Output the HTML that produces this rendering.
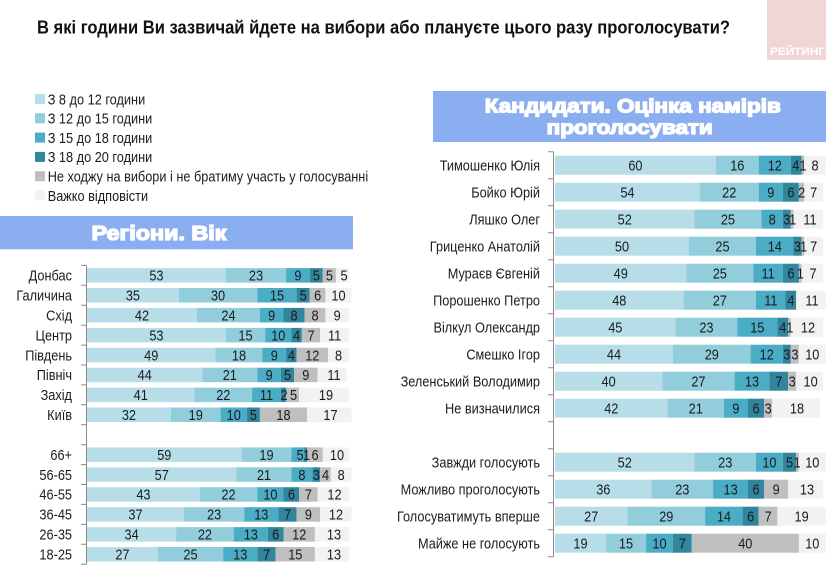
<!DOCTYPE html>
<html><head><meta charset="utf-8"><style>
html,body{margin:0;padding:0;background:#fff;}
svg{display:block;}
text{font-family:"Liberation Sans","DejaVu Sans",sans-serif;font-size:15px;fill:#1c1c1c;}
.n{text-anchor:middle;}
.l{text-anchor:end;}
.lg{font-size:15px;}
.c1{fill:#b7dee8}.c2{fill:#92cddc}.c3{fill:#4bacc6}.c4{fill:#31859c}.c5{fill:#bfbfbf}.c6{fill:#f2f2f2}
.h{font-weight:bold;fill:#fff;stroke:#fff;stroke-width:1.3px;text-anchor:middle;}
</style></head><body>
<svg width="838" height="578" viewBox="0 0 838 578" xmlns="http://www.w3.org/2000/svg">
<rect width="838" height="578" fill="#fff"/>
<!-- logo -->
<rect x="767" y="0" width="59" height="60" fill="#f1d6d6"/>
<text x="770" y="55" style="fill:#fff;font-size:11px;font-weight:bold" textLength="55" lengthAdjust="spacingAndGlyphs">РЕЙТИНГ</text>
<!-- title -->
<text x="37" y="33.5" style="font-size:18px;font-weight:bold;fill:#111" textLength="693" lengthAdjust="spacingAndGlyphs">В які години Ви зазвичай йдете на вибори або плануєте цього разу проголосувати?</text>
<!-- legend -->
<rect x="35" y="94" width="10" height="10" class="c1"/>
<rect x="35" y="113.3" width="10" height="10" class="c2"/>
<rect x="35" y="132.6" width="10" height="10" class="c3"/>
<rect x="35" y="151.9" width="10" height="10" class="c4"/>
<rect x="35" y="171.2" width="10" height="10" class="c5"/>
<rect x="35" y="190.5" width="10" height="10" class="c6"/>
<text class="lg" transform="translate(47.7 104.3) scale(.85 1)">З 8 до 12 години</text>
<text class="lg" transform="translate(47.7 123.6) scale(.85 1)">З 12 до 15 години</text>
<text class="lg" transform="translate(47.7 142.9) scale(.85 1)">З 15 до 18 години</text>
<text class="lg" transform="translate(47.7 162.2) scale(.85 1)">З 18 до 20 години</text>
<text class="lg" transform="translate(47.7 181.5) scale(.85 1)" textLength="377" lengthAdjust="spacingAndGlyphs">Не ходжу на вибори і не братиму участь у голосуванні</text>
<text class="lg" transform="translate(47.7 200.8) scale(.85 1)">Важко відповісти</text>
<!-- headers -->
<rect x="0" y="216" width="353" height="33.3" fill="#8aaef0"/>
<text class="h" x="159" y="240" style="font-size:20px" textLength="135" lengthAdjust="spacingAndGlyphs">Регіони. Вік</text>
<rect x="433" y="91" width="393" height="51" fill="#8aaef0"/>
<text class="h" x="632.8" y="112.5" style="font-size:19px" textLength="296" lengthAdjust="spacingAndGlyphs">Кандидати. Оцінка намірів</text>
<text class="h" x="629.7" y="134" style="font-size:19px" textLength="166" lengthAdjust="spacingAndGlyphs">проголосувати</text>
<!-- axes -->
<path d="M86.5 265.4V564.2M81 265.4H86.5M81 285.3H86.5M81 305.2H86.5M81 325.2H86.5M81 345.1H86.5M81 365H86.5M81 384.9H86.5M81 404.8H86.5M81 424.8H86.5M81 444.7H86.5M81 464.6H86.5M81 484.5H86.5M81 504.4H86.5M81 524.4H86.5M81 544.3H86.5M81 564.2H86.5" stroke="#8a8a8a" stroke-width="1" fill="none"/>
<path d="M553.5 151.7V556.7M548 151.7H553.5M548 178.7H553.5M548 205.7H553.5M548 232.7H553.5M548 259.7H553.5M548 286.7H553.5M548 313.7H553.5M548 340.7H553.5M548 367.7H553.5M548 394.7H553.5M548 421.7H553.5M548 448.7H553.5M548 475.7H553.5M548 502.7H553.5M548 529.7H553.5M548 556.7H553.5" stroke="#8a8a8a" stroke-width="1" fill="none"/>

<!-- LEFT BARS -->
<g>
<rect class="c1" x="87" y="268.1" width="138.9" height="14.5"/><rect class="c2" x="225.9" y="268.1" width="60.2" height="14.5"/><rect class="c3" x="286.1" y="268.1" width="23.6" height="14.5"/><rect class="c4" x="309.7" y="268.1" width="13.1" height="14.5"/><rect class="c5" x="322.8" y="268.1" width="13.1" height="14.5"/><rect class="c6" x="335.9" y="268.1" width="13.1" height="14.5"/>
<rect class="c1" x="87" y="288" width="91.7" height="14.5"/><rect class="c2" x="178.7" y="288" width="78.6" height="14.5"/><rect class="c3" x="257.3" y="288" width="39.3" height="14.5"/><rect class="c4" x="296.6" y="288" width="13.1" height="14.5"/><rect class="c5" x="309.7" y="288" width="15.7" height="14.5"/><rect class="c6" x="325.4" y="288" width="26.2" height="14.5"/>
<rect class="c1" x="87" y="307.9" width="110" height="14.5"/><rect class="c2" x="197" y="307.9" width="62.9" height="14.5"/><rect class="c3" x="259.9" y="307.9" width="23.6" height="14.5"/><rect class="c4" x="283.5" y="307.9" width="21" height="14.5"/><rect class="c5" x="304.5" y="307.9" width="20.9" height="14.5"/><rect class="c6" x="325.4" y="307.9" width="23.6" height="14.5"/>
<rect class="c1" x="87" y="327.9" width="138.9" height="14.5"/><rect class="c2" x="225.9" y="327.9" width="39.3" height="14.5"/><rect class="c3" x="265.2" y="327.9" width="26.2" height="14.5"/><rect class="c4" x="291.4" y="327.9" width="10.4" height="14.5"/><rect class="c5" x="301.8" y="327.9" width="18.4" height="14.5"/><rect class="c6" x="320.2" y="327.9" width="28.8" height="14.5"/>
<rect class="c1" x="87" y="347.8" width="128.4" height="14.5"/><rect class="c2" x="215.4" y="347.8" width="47.1" height="14.5"/><rect class="c3" x="262.5" y="347.8" width="23.6" height="14.5"/><rect class="c4" x="286.1" y="347.8" width="10.5" height="14.5"/><rect class="c5" x="296.6" y="347.8" width="31.4" height="14.5"/><rect class="c6" x="328" y="347.8" width="21" height="14.5"/>
<rect class="c1" x="87" y="367.7" width="115.3" height="14.5"/><rect class="c2" x="202.3" y="367.7" width="55" height="14.5"/><rect class="c3" x="257.3" y="367.7" width="23.6" height="14.5"/><rect class="c4" x="280.9" y="367.7" width="13.1" height="14.5"/><rect class="c5" x="294" y="367.7" width="23.6" height="14.5"/><rect class="c6" x="317.6" y="367.7" width="28.8" height="14.5"/>
<rect class="c1" x="87" y="387.6" width="107.4" height="14.5"/><rect class="c2" x="194.4" y="387.6" width="57.7" height="14.5"/><rect class="c3" x="252.1" y="387.6" width="28.8" height="14.5"/><rect class="c4" x="280.9" y="387.6" width="5.2" height="14.5"/><rect class="c5" x="286.1" y="387.6" width="13.1" height="14.5"/><rect class="c6" x="299.2" y="387.6" width="49.8" height="14.5"/>
<rect class="c1" x="87" y="407.5" width="83.8" height="14.5"/><rect class="c2" x="170.8" y="407.5" width="49.8" height="14.5"/><rect class="c3" x="220.6" y="407.5" width="26.2" height="14.5"/><rect class="c4" x="246.8" y="407.5" width="13.1" height="14.5"/><rect class="c5" x="259.9" y="407.5" width="47.2" height="14.5"/><rect class="c6" x="307.1" y="407.5" width="44.5" height="14.5"/>
<rect class="c1" x="87" y="447.4" width="154.6" height="14.5"/><rect class="c2" x="241.6" y="447.4" width="49.8" height="14.5"/><rect class="c3" x="291.4" y="447.4" width="13.1" height="14.5"/><rect class="c4" x="304.5" y="447.4" width="2.6" height="14.5"/><rect class="c5" x="307.1" y="447.4" width="15.7" height="14.5"/><rect class="c6" x="322.8" y="447.4" width="26.2" height="14.5"/>
<rect class="c1" x="87" y="467.3" width="149.3" height="14.5"/><rect class="c2" x="236.3" y="467.3" width="55.1" height="14.5"/><rect class="c3" x="291.4" y="467.3" width="20.9" height="14.5"/><rect class="c4" x="312.3" y="467.3" width="7.9" height="14.5"/><rect class="c5" x="320.2" y="467.3" width="10.5" height="14.5"/><rect class="c6" x="330.7" y="467.3" width="20.9" height="14.5"/>
<rect class="c1" x="87" y="487.2" width="112.7" height="14.5"/><rect class="c2" x="199.7" y="487.2" width="57.6" height="14.5"/><rect class="c3" x="257.3" y="487.2" width="26.2" height="14.5"/><rect class="c4" x="283.5" y="487.2" width="15.7" height="14.5"/><rect class="c5" x="299.2" y="487.2" width="18.4" height="14.5"/><rect class="c6" x="317.6" y="487.2" width="31.4" height="14.5"/>
<rect class="c1" x="87" y="507.2" width="96.9" height="14.5"/><rect class="c2" x="183.9" y="507.2" width="60.3" height="14.5"/><rect class="c3" x="244.2" y="507.2" width="34.1" height="14.5"/><rect class="c4" x="278.3" y="507.2" width="18.3" height="14.5"/><rect class="c5" x="296.6" y="507.2" width="23.6" height="14.5"/><rect class="c6" x="320.2" y="507.2" width="31.4" height="14.5"/>
<rect class="c1" x="87" y="527.1" width="89.1" height="14.5"/><rect class="c2" x="176.1" y="527.1" width="57.6" height="14.5"/><rect class="c3" x="233.7" y="527.1" width="34.1" height="14.5"/><rect class="c4" x="267.8" y="527.1" width="15.7" height="14.5"/><rect class="c5" x="283.5" y="527.1" width="31.4" height="14.5"/><rect class="c6" x="314.9" y="527.1" width="34.1" height="14.5"/>
<rect class="c1" x="87" y="547" width="70.7" height="14.5"/><rect class="c2" x="157.7" y="547" width="65.5" height="14.5"/><rect class="c3" x="223.2" y="547" width="34.1" height="14.5"/><rect class="c4" x="257.3" y="547" width="18.3" height="14.5"/><rect class="c5" x="275.6" y="547" width="39.3" height="14.5"/><rect class="c6" x="314.9" y="547" width="34.1" height="14.5"/>
</g>

<!-- LEFT LABELS -->
<text class="l" transform="translate(72 280.6) scale(.85 1)">Донбас</text>
<text class="l" transform="translate(72 300.5) scale(.85 1)">Галичина</text>
<text class="l" transform="translate(72 320.4) scale(.85 1)">Схід</text>
<text class="l" transform="translate(72 340.4) scale(.85 1)">Центр</text>
<text class="l" transform="translate(72 360.3) scale(.85 1)">Південь</text>
<text class="l" transform="translate(72 380.2) scale(.85 1)">Північ</text>
<text class="l" transform="translate(72 400.1) scale(.85 1)">Захід</text>
<text class="l" transform="translate(72 420) scale(.85 1)">Київ</text>
<text class="l" transform="translate(72 459.9) scale(.85 1)">66+</text>
<text class="l" transform="translate(72 479.8) scale(.85 1)">56-65</text>
<text class="l" transform="translate(72 499.7) scale(.85 1)">46-55</text>
<text class="l" transform="translate(72 519.7) scale(.85 1)">36-45</text>
<text class="l" transform="translate(72 539.6) scale(.85 1)">26-35</text>
<text class="l" transform="translate(72 559.5) scale(.85 1)">18-25</text>

<!-- LEFT NUMBERS -->
<g>
<text class="n" transform="translate(156.4 280.6) scale(.85 1)">53</text><text class="n" transform="translate(256 280.6) scale(.85 1)">23</text><text class="n" transform="translate(297.9 280.6) scale(.85 1)">9</text><text class="n" transform="translate(316.3 280.6) scale(.85 1)">5</text><text class="n" transform="translate(329.4 280.6) scale(.85 1)">5</text><text class="n" transform="translate(344 280.6) scale(.85 1)">5</text>
<text class="n" transform="translate(132.9 300.5) scale(.85 1)">35</text><text class="n" transform="translate(218 300.5) scale(.85 1)">30</text><text class="n" transform="translate(277 300.5) scale(.85 1)">15</text><text class="n" transform="translate(303.2 300.5) scale(.85 1)">5</text><text class="n" transform="translate(317.6 300.5) scale(.85 1)">6</text><text class="n" transform="translate(338.5 300.5) scale(.85 1)">10</text>
<text class="n" transform="translate(142 320.4) scale(.85 1)">42</text><text class="n" transform="translate(228.5 320.4) scale(.85 1)">24</text><text class="n" transform="translate(271.7 320.4) scale(.85 1)">9</text><text class="n" transform="translate(294 320.4) scale(.85 1)">8</text><text class="n" transform="translate(315 320.4) scale(.85 1)">8</text><text class="n" transform="translate(337.2 320.4) scale(.85 1)">9</text>
<text class="n" transform="translate(156.4 340.4) scale(.85 1)">53</text><text class="n" transform="translate(245.5 340.4) scale(.85 1)">15</text><text class="n" transform="translate(278.3 340.4) scale(.85 1)">10</text><text class="n" transform="translate(296.6 340.4) scale(.85 1)">4</text><text class="n" transform="translate(311 340.4) scale(.85 1)">7</text><text class="n" transform="translate(334.6 340.4) scale(.85 1)">11</text>
<text class="n" transform="translate(151.2 360.3) scale(.85 1)">49</text><text class="n" transform="translate(239 360.3) scale(.85 1)">18</text><text class="n" transform="translate(274.3 360.3) scale(.85 1)">9</text><text class="n" transform="translate(291.4 360.3) scale(.85 1)">4</text><text class="n" transform="translate(312.3 360.3) scale(.85 1)">12</text><text class="n" transform="translate(338.5 360.3) scale(.85 1)">8</text>
<text class="n" transform="translate(144.7 380.2) scale(.85 1)">44</text><text class="n" transform="translate(229.8 380.2) scale(.85 1)">21</text><text class="n" transform="translate(269.1 380.2) scale(.85 1)">9</text><text class="n" transform="translate(287.5 380.2) scale(.85 1)">5</text><text class="n" transform="translate(305.8 380.2) scale(.85 1)">9</text><text class="n" transform="translate(334 380.2) scale(.85 1)">11</text>
<text class="n" transform="translate(140.7 400.1) scale(.85 1)">41</text><text class="n" transform="translate(223.3 400.1) scale(.85 1)">22</text><text class="n" transform="translate(266.5 400.1) scale(.85 1)">11</text><text class="n" transform="translate(284 400.1) scale(.85 1)">2</text><text class="n" transform="translate(293.5 400.1) scale(.85 1)">5</text><text class="n" transform="translate(326 400.1) scale(.85 1)">19</text>
<text class="n" transform="translate(128.9 420) scale(.85 1)">32</text><text class="n" transform="translate(195.7 420) scale(.85 1)">19</text><text class="n" transform="translate(233.7 420) scale(.85 1)">10</text><text class="n" transform="translate(253.4 420) scale(.85 1)">5</text><text class="n" transform="translate(283.5 420) scale(.85 1)">18</text><text class="n" transform="translate(330.5 420) scale(.85 1)">17</text>
<text class="n" transform="translate(164.3 459.9) scale(.85 1)">59</text><text class="n" transform="translate(266.5 459.9) scale(.85 1)">19</text><text class="n" transform="translate(300 459.9) scale(.85 1)">5</text><text class="n" transform="translate(306.5 459.9) scale(.85 1)">1</text><text class="n" transform="translate(315 459.9) scale(.85 1)">6</text><text class="n" transform="translate(337 459.9) scale(.85 1)">10</text>
<text class="n" transform="translate(161.7 479.8) scale(.85 1)">57</text><text class="n" transform="translate(263.9 479.8) scale(.85 1)">21</text><text class="n" transform="translate(301.9 479.8) scale(.85 1)">8</text><text class="n" transform="translate(316.3 479.8) scale(.85 1)">3</text><text class="n" transform="translate(325.5 479.8) scale(.85 1)">4</text><text class="n" transform="translate(341.2 479.8) scale(.85 1)">8</text>
<text class="n" transform="translate(143.4 499.7) scale(.85 1)">43</text><text class="n" transform="translate(228.5 499.7) scale(.85 1)">22</text><text class="n" transform="translate(270.4 499.7) scale(.85 1)">10</text><text class="n" transform="translate(291.4 499.7) scale(.85 1)">6</text><text class="n" transform="translate(308.4 499.7) scale(.85 1)">7</text><text class="n" transform="translate(334.5 499.7) scale(.85 1)">12</text>
<text class="n" transform="translate(135.5 519.7) scale(.85 1)">37</text><text class="n" transform="translate(214.1 519.7) scale(.85 1)">23</text><text class="n" transform="translate(261.3 519.7) scale(.85 1)">13</text><text class="n" transform="translate(287.5 519.7) scale(.85 1)">7</text><text class="n" transform="translate(308.4 519.7) scale(.85 1)">9</text><text class="n" transform="translate(336 519.7) scale(.85 1)">12</text>
<text class="n" transform="translate(131.6 539.6) scale(.85 1)">34</text><text class="n" transform="translate(204.9 539.6) scale(.85 1)">22</text><text class="n" transform="translate(250.8 539.6) scale(.85 1)">13</text><text class="n" transform="translate(275.7 539.6) scale(.85 1)">6</text><text class="n" transform="translate(299.2 539.6) scale(.85 1)">12</text><text class="n" transform="translate(334 539.6) scale(.85 1)">13</text>
<text class="n" transform="translate(122.4 559.5) scale(.85 1)">27</text><text class="n" transform="translate(190.5 559.5) scale(.85 1)">25</text><text class="n" transform="translate(240.3 559.5) scale(.85 1)">13</text><text class="n" transform="translate(266.5 559.5) scale(.85 1)">7</text><text class="n" transform="translate(295.3 559.5) scale(.85 1)">15</text><text class="n" transform="translate(334 559.5) scale(.85 1)">13</text>
</g>

<!-- RIGHT BARS -->
<g>
<rect class="c1" x="555" y="155.7" width="160.8" height="19"/><rect class="c2" x="715.8" y="155.7" width="42.9" height="19"/><rect class="c3" x="758.7" y="155.7" width="32.1" height="19"/><rect class="c4" x="790.8" y="155.7" width="10.8" height="19"/><rect class="c5" x="801.6" y="155.7" width="2.6" height="19"/><rect class="c6" x="804.2" y="155.7" width="21.5" height="19"/>
<rect class="c1" x="555" y="182.7" width="144.7" height="19"/><rect class="c2" x="699.7" y="182.7" width="59" height="19"/><rect class="c3" x="758.7" y="182.7" width="24.1" height="19"/><rect class="c4" x="782.8" y="182.7" width="16.1" height="19"/><rect class="c5" x="798.9" y="182.7" width="5.3" height="19"/><rect class="c6" x="804.2" y="182.7" width="18.8" height="19"/>
<rect class="c1" x="555" y="209.7" width="139.4" height="19"/><rect class="c2" x="694.4" y="209.7" width="67" height="19"/><rect class="c3" x="761.4" y="209.7" width="21.4" height="19"/><rect class="c4" x="782.8" y="209.7" width="8" height="19"/><rect class="c5" x="790.8" y="209.7" width="2.7" height="19"/><rect class="c6" x="793.5" y="209.7" width="29.5" height="19"/>
<rect class="c1" x="555" y="236.7" width="134" height="19"/><rect class="c2" x="689" y="236.7" width="67" height="19"/><rect class="c3" x="756" y="236.7" width="37.5" height="19"/><rect class="c4" x="793.5" y="236.7" width="8.1" height="19"/><rect class="c5" x="801.6" y="236.7" width="2.6" height="19"/><rect class="c6" x="804.2" y="236.7" width="18.8" height="19"/>
<rect class="c1" x="555" y="263.7" width="131.3" height="19"/><rect class="c2" x="686.3" y="263.7" width="67" height="19"/><rect class="c3" x="753.3" y="263.7" width="29.5" height="19"/><rect class="c4" x="782.8" y="263.7" width="16.1" height="19"/><rect class="c5" x="798.9" y="263.7" width="2.7" height="19"/><rect class="c6" x="801.6" y="263.7" width="21.4" height="19"/>
<rect class="c1" x="555" y="290.7" width="128.6" height="19"/><rect class="c2" x="683.6" y="290.7" width="72.4" height="19"/><rect class="c3" x="756" y="290.7" width="29.5" height="19"/><rect class="c4" x="785.5" y="290.7" width="10.7" height="19"/><rect class="c6" x="796.2" y="290.7" width="29.5" height="19"/>
<rect class="c1" x="555" y="317.7" width="120.6" height="19"/><rect class="c2" x="675.6" y="317.7" width="61.6" height="19"/><rect class="c3" x="737.2" y="317.7" width="40.2" height="19"/><rect class="c4" x="777.4" y="317.7" width="10.8" height="19"/><rect class="c5" x="788.2" y="317.7" width="2.6" height="19"/><rect class="c6" x="790.8" y="317.7" width="32.2" height="19"/>
<rect class="c1" x="555" y="344.7" width="117.9" height="19"/><rect class="c2" x="672.9" y="344.7" width="77.7" height="19"/><rect class="c3" x="750.6" y="344.7" width="32.2" height="19"/><rect class="c4" x="782.8" y="344.7" width="8" height="19"/><rect class="c5" x="790.8" y="344.7" width="8.1" height="19"/><rect class="c6" x="798.9" y="344.7" width="26.8" height="19"/>
<rect class="c1" x="555" y="371.7" width="107.2" height="19"/><rect class="c2" x="662.2" y="371.7" width="72.4" height="19"/><rect class="c3" x="734.6" y="371.7" width="34.8" height="19"/><rect class="c4" x="769.4" y="371.7" width="18.8" height="19"/><rect class="c5" x="788.2" y="371.7" width="8" height="19"/><rect class="c6" x="796.2" y="371.7" width="26.8" height="19"/>
<rect class="c1" x="555" y="398.7" width="112.6" height="19"/><rect class="c2" x="667.6" y="398.7" width="56.2" height="19"/><rect class="c3" x="723.8" y="398.7" width="24.2" height="19"/><rect class="c4" x="748" y="398.7" width="16" height="19"/><rect class="c5" x="764" y="398.7" width="8.1" height="19"/><rect class="c6" x="772.1" y="398.7" width="48.2" height="19"/>
<rect class="c1" x="555" y="452.7" width="139.4" height="19"/><rect class="c2" x="694.4" y="452.7" width="61.6" height="19"/><rect class="c3" x="756" y="452.7" width="26.8" height="19"/><rect class="c4" x="782.8" y="452.7" width="13.4" height="19"/><rect class="c5" x="796.2" y="452.7" width="2.7" height="19"/><rect class="c6" x="798.9" y="452.7" width="26.8" height="19"/>
<rect class="c1" x="555" y="479.7" width="96.5" height="19"/><rect class="c2" x="651.5" y="479.7" width="61.6" height="19"/><rect class="c3" x="713.1" y="479.7" width="34.9" height="19"/><rect class="c4" x="748" y="479.7" width="16" height="19"/><rect class="c5" x="764" y="479.7" width="24.2" height="19"/><rect class="c6" x="788.2" y="479.7" width="34.8" height="19"/>
<rect class="c1" x="555" y="506.7" width="72.4" height="19"/><rect class="c2" x="627.4" y="506.7" width="77.7" height="19"/><rect class="c3" x="705.1" y="506.7" width="37.5" height="19"/><rect class="c4" x="742.6" y="506.7" width="16.1" height="19"/><rect class="c5" x="758.7" y="506.7" width="18.7" height="19"/><rect class="c6" x="777.4" y="506.7" width="48.3" height="19"/>
<rect class="c1" x="555" y="533.7" width="50.9" height="19"/><rect class="c2" x="605.9" y="533.7" width="40.2" height="19"/><rect class="c3" x="646.1" y="533.7" width="26.8" height="19"/><rect class="c4" x="672.9" y="533.7" width="18.8" height="19"/><rect class="c5" x="691.7" y="533.7" width="107.2" height="19"/><rect class="c6" x="798.9" y="533.7" width="26.8" height="19"/>
</g>

<!-- RIGHT LABELS -->
<text class="l" transform="translate(540 170.5) scale(.85 1)">Тимошенко Юлія</text>
<text class="l" transform="translate(540 197.5) scale(.85 1)">Бойко Юрій</text>
<text class="l" transform="translate(540 224.5) scale(.85 1)">Ляшко Олег</text>
<text class="l" transform="translate(540 251.5) scale(.85 1)">Гриценко Анатолій</text>
<text class="l" transform="translate(540 278.5) scale(.85 1)">Мураєв Євгеній</text>
<text class="l" transform="translate(540 305.5) scale(.85 1)">Порошенко Петро</text>
<text class="l" transform="translate(540 332.5) scale(.85 1)">Вілкул Олександр</text>
<text class="l" transform="translate(540 359.5) scale(.85 1)">Смешко Ігор</text>
<text class="l" transform="translate(540 386.5) scale(.85 1)">Зеленський Володимир</text>
<text class="l" transform="translate(540 413.5) scale(.85 1)">Не визначилися</text>
<text class="l" transform="translate(540 467.5) scale(.85 1)">Завжди голосують</text>
<text class="l" transform="translate(540 494.5) scale(.85 1)">Можливо проголосують</text>
<text class="l" transform="translate(540 521.5) scale(.85 1)">Голосуватимуть вперше</text>
<text class="l" transform="translate(540 548.5) scale(.85 1)">Майже не голосують</text>

<!-- RIGHT NUMBERS -->
<g>
<text class="n" transform="translate(635.4 170.5) scale(.85 1)">60</text><text class="n" transform="translate(737.3 170.5) scale(.85 1)">16</text><text class="n" transform="translate(774.8 170.5) scale(.85 1)">12</text><text class="n" transform="translate(795.8 170.5) scale(.85 1)">4</text><text class="n" transform="translate(802.9 170.5) scale(.85 1)">1</text><text class="n" transform="translate(815 170.5) scale(.85 1)">8</text>
<text class="n" transform="translate(627.4 197.5) scale(.85 1)">54</text><text class="n" transform="translate(729.2 197.5) scale(.85 1)">22</text><text class="n" transform="translate(770.8 197.5) scale(.85 1)">9</text><text class="n" transform="translate(790.9 197.5) scale(.85 1)">6</text><text class="n" transform="translate(801.6 197.5) scale(.85 1)">2</text><text class="n" transform="translate(813.6 197.5) scale(.85 1)">7</text>
<text class="n" transform="translate(624.7 224.5) scale(.85 1)">52</text><text class="n" transform="translate(727.9 224.5) scale(.85 1)">25</text><text class="n" transform="translate(772.1 224.5) scale(.85 1)">8</text><text class="n" transform="translate(786.8 224.5) scale(.85 1)">3</text><text class="n" transform="translate(792.7 224.5) scale(.85 1)">1</text><text class="n" transform="translate(810 224.5) scale(.85 1)">11</text>
<text class="n" transform="translate(622 251.5) scale(.85 1)">50</text><text class="n" transform="translate(722.5 251.5) scale(.85 1)">25</text><text class="n" transform="translate(774.8 251.5) scale(.85 1)">14</text><text class="n" transform="translate(797.4 251.5) scale(.85 1)">3</text><text class="n" transform="translate(803.5 251.5) scale(.85 1)">1</text><text class="n" transform="translate(813.6 251.5) scale(.85 1)">7</text>
<text class="n" transform="translate(620.7 278.5) scale(.85 1)">49</text><text class="n" transform="translate(719.8 278.5) scale(.85 1)">25</text><text class="n" transform="translate(768.1 278.5) scale(.85 1)">11</text><text class="n" transform="translate(790.9 278.5) scale(.85 1)">6</text><text class="n" transform="translate(800.3 278.5) scale(.85 1)">1</text><text class="n" transform="translate(813 278.5) scale(.85 1)">7</text>
<text class="n" transform="translate(619.3 305.5) scale(.85 1)">48</text><text class="n" transform="translate(719.8 305.5) scale(.85 1)">27</text><text class="n" transform="translate(770.8 305.5) scale(.85 1)">11</text><text class="n" transform="translate(790.9 305.5) scale(.85 1)">4</text><text class="n" transform="translate(812 305.5) scale(.85 1)">11</text>
<text class="n" transform="translate(615.3 332.5) scale(.85 1)">45</text><text class="n" transform="translate(706.4 332.5) scale(.85 1)">23</text><text class="n" transform="translate(757.3 332.5) scale(.85 1)">15</text><text class="n" transform="translate(782.8 332.5) scale(.85 1)">4</text><text class="n" transform="translate(789.8 332.5) scale(.85 1)">1</text><text class="n" transform="translate(808 332.5) scale(.85 1)">12</text>
<text class="n" transform="translate(614 359.5) scale(.85 1)">44</text><text class="n" transform="translate(711.8 359.5) scale(.85 1)">29</text><text class="n" transform="translate(766.7 359.5) scale(.85 1)">12</text><text class="n" transform="translate(786.8 359.5) scale(.85 1)">3</text><text class="n" transform="translate(794.9 359.5) scale(.85 1)">3</text><text class="n" transform="translate(812.3 359.5) scale(.85 1)">10</text>
<text class="n" transform="translate(608.6 386.5) scale(.85 1)">40</text><text class="n" transform="translate(698.4 386.5) scale(.85 1)">27</text><text class="n" transform="translate(752 386.5) scale(.85 1)">13</text><text class="n" transform="translate(778.8 386.5) scale(.85 1)">7</text><text class="n" transform="translate(792.2 386.5) scale(.85 1)">3</text><text class="n" transform="translate(810.6 386.5) scale(.85 1)">10</text>
<text class="n" transform="translate(611.3 413.5) scale(.85 1)">42</text><text class="n" transform="translate(695.7 413.5) scale(.85 1)">21</text><text class="n" transform="translate(735.9 413.5) scale(.85 1)">9</text><text class="n" transform="translate(756 413.5) scale(.85 1)">6</text><text class="n" transform="translate(768.1 413.5) scale(.85 1)">3</text><text class="n" transform="translate(797 413.5) scale(.85 1)">18</text>
<text class="n" transform="translate(624.7 467.5) scale(.85 1)">52</text><text class="n" transform="translate(725.2 467.5) scale(.85 1)">23</text><text class="n" transform="translate(769.4 467.5) scale(.85 1)">10</text><text class="n" transform="translate(789.5 467.5) scale(.85 1)">5</text><text class="n" transform="translate(797 467.5) scale(.85 1)">1</text><text class="n" transform="translate(812.3 467.5) scale(.85 1)">10</text>
<text class="n" transform="translate(603.3 494.5) scale(.85 1)">36</text><text class="n" transform="translate(682.3 494.5) scale(.85 1)">23</text><text class="n" transform="translate(730.6 494.5) scale(.85 1)">13</text><text class="n" transform="translate(756 494.5) scale(.85 1)">6</text><text class="n" transform="translate(776.1 494.5) scale(.85 1)">9</text><text class="n" transform="translate(807 494.5) scale(.85 1)">13</text>
<text class="n" transform="translate(591.2 521.5) scale(.85 1)">27</text><text class="n" transform="translate(666.3 521.5) scale(.85 1)">29</text><text class="n" transform="translate(723.9 521.5) scale(.85 1)">14</text><text class="n" transform="translate(750.7 521.5) scale(.85 1)">6</text><text class="n" transform="translate(768.1 521.5) scale(.85 1)">7</text><text class="n" transform="translate(801.6 521.5) scale(.85 1)">19</text>
<text class="n" transform="translate(580.5 548.5) scale(.85 1)">19</text><text class="n" transform="translate(626 548.5) scale(.85 1)">15</text><text class="n" transform="translate(659.5 548.5) scale(.85 1)">10</text><text class="n" transform="translate(682.3 548.5) scale(.85 1)">7</text><text class="n" transform="translate(745.3 548.5) scale(.85 1)">40</text><text class="n" transform="translate(812.3 548.5) scale(.85 1)">10</text>
</g>
</svg>
</body></html>
